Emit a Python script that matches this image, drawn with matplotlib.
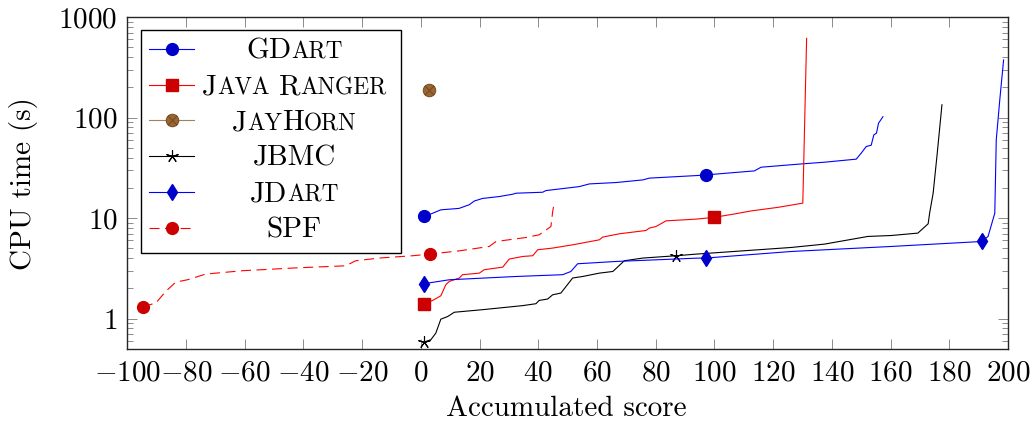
import matplotlib
matplotlib.use("Agg")
import matplotlib.pyplot as plt
from matplotlib import ticker
from matplotlib.path import Path
from matplotlib.offsetbox import TextArea, HPacker, AnnotationBbox

plt.rcParams["font.family"] = ["cmr10", "DejaVu Serif"]
plt.rcParams["mathtext.fontset"] = "cm"
plt.rcParams["axes.formatter.use_mathtext"] = True
plt.rcParams["font.size"] = 21

# ---- data (x = accumulated score, y = CPU time in s)
gdart_x = [1, 3.4, 6.8, 13, 16.5, 18.2, 21, 26.7, 31.3, 32.4, 41.5, 42.6, 54, 57.4, 66.5,
           75.6, 77.8, 93.8, 97, 113.6, 115.9, 129.6, 137.5, 148.3, 150, 151.7, 153.4,
           154.3, 155.2, 155.9, 157.4]
gdart_y = [10.5, 11.0, 12.1, 12.5, 13.6, 14.8, 15.7, 16.4, 17.3, 17.7, 18.1, 18.8, 20.6, 21.9,
           22.6, 24.0, 25.0, 26.5, 26.9, 29.5, 32.1, 34.6, 36.0, 38.6, 44.3, 51.5, 53.1, 67.3,
           70, 87.9, 102]

ranger_x = [1, 4, 6.8, 8.5, 9.7, 13.1, 14.2, 19.9, 21.6, 27.9, 30.1, 34.7, 38.1, 39.8, 44.9,
            51.7, 60.8, 61.9, 67.6, 76.7, 77.8, 80.1, 83.5, 93.8, 100, 106.8, 112.5, 121.6,
            130.1, 131.4]
ranger_y = [1.41, 1.52, 1.69, 2.18, 2.35, 2.54, 2.74, 2.84, 3.07, 3.26, 3.92, 4.16, 4.23, 4.85,
            5.04, 5.43, 6.09, 6.48, 6.99, 7.54, 7.96, 8.26, 9.40, 9.78, 10.2, 11.0, 11.8, 12.8,
            14.1, 614]

jayhorn_x = [2.7]
jayhorn_y = [188]

jbmc_x = [1, 3.4, 5.1, 6.8, 9.1, 11.4, 21, 34.7, 39.2, 40.3, 43.2, 44.9, 47.7, 51.7, 55.1,
          60.8, 65.4, 69.3, 75.6, 87, 93.8, 126.1, 137.5, 152.3, 160.2, 169.3, 172.8, 173.3,
          174.5, 175.9, 177.5]
jbmc_y = [0.586, 0.618, 0.72, 0.99, 1.05, 1.16, 1.23, 1.35, 1.41, 1.52, 1.57, 1.73, 1.80, 2.54,
          2.63, 2.84, 2.95, 3.77, 4.01, 4.23, 4.39, 5.11, 5.52, 6.58, 6.72, 7.10, 8.79, 11.2,
          17.7, 44.3, 134]

jdart_x = [1, 9.7, 32.4, 48.3, 51.1, 53.4, 66.5, 93.8, 97, 126.1, 160.2, 191, 193.2, 195.5,
           196, 197.2, 198.5]
jdart_y = [2.23, 2.44, 2.63, 2.74, 2.95, 3.52, 3.71, 4.0, 4.01, 4.66, 5.23, 5.86, 6.57, 11.2,
           60, 150, 374]

spf_x = [-94.7, -90.3, -86.9, -83.5, -79.5, -73.3, -60.8, -43.7, -25.6, -22.2, -14.2, -2.8, 3,
         13.1, 23.3, 25.6, 35.8, 40.3, 44.3, 44.9, 45.2]
spf_y = [1.32, 1.43, 1.87, 2.31, 2.44, 2.78, 3.00, 3.19, 3.36, 3.77, 4.01, 4.23, 4.39, 4.73,
         5.23, 5.86, 6.42, 6.83, 8.26, 11.6, 13.1]

# legend names, split into (text, small caps?) pieces, one inner list per word
legend_names = [
    [[("GD", False), ("ART", True)]],
    [[("J", False), ("AVA", True)], [("R", False), ("ANGER", True)]],
    [[("J", False), ("AY", True), ("H", False), ("ORN", True)]],
    [[("JBMC", False)]],
    [[("JD", False), ("ART", True)]],
    [[("SPF", False)]],
]

x_ticks = list(range(-100, 201, 20))
y_ticks = [1, 10, 100, 1000]

FS = 21

fig = plt.figure(figsize=(10.32, 4.28), dpi=100)
ax = fig.add_axes([127.3 / 1032, 79 / 428, 880.7 / 1032, 332 / 428])
ax.set_yscale("log")

lw = 0.8
h_gdart, = ax.plot(gdart_x, gdart_y, color="#0000ff", lw=lw, marker="o", ms=8.5,
                   mfc="#0000cc", mec="#0000cc", markevery=[0, gdart_x.index(97)])
h_ranger, = ax.plot(ranger_x, ranger_y, color="#ff0000", lw=lw, marker="s", ms=8,
                    mfc="#cc0000", mec="#cc0000", markevery=[0, ranger_x.index(100)])

# otimes mark: circle with a cross inside
s = 0.7071
otimes = Path.make_compound_path(
    Path.unit_circle(),
    Path([(-s, -s), (s, s), (-s, s), (s, -s)],
         [Path.MOVETO, Path.LINETO, Path.MOVETO, Path.LINETO]))
h_jayhorn, = ax.plot(jayhorn_x, jayhorn_y, color="#a8815c", lw=lw, marker=otimes, ms=9,
                     mfc="#996633", mec="#74491f", mew=0.7)
h_jbmc, = ax.plot(jbmc_x, jbmc_y, color="black", lw=lw, marker=(5, 2, 0), ms=9, mew=0.8,
                  mec="black", markevery=[0, jbmc_x.index(87)])
h_jdart, = ax.plot(jdart_x, jdart_y, color="#0000ff", lw=lw, marker="d", ms=8,
                   mfc="#0000cc", mec="#0000cc",
                   markevery=[0, jdart_x.index(97), jdart_x.index(191)])
h_spf, = ax.plot(spf_x, spf_y, color="#ff0000", lw=lw, dashes=(9, 5), marker="o", ms=8.5,
                 mfc="#cc0000", mec="#cc0000", markevery=[0, spf_x.index(3)])

ax.set_xlim(-100, 200)
ax.set_ylim(0.5, 1000)
ax.set_xticks(x_ticks)
ax.yaxis.set_major_locator(ticker.FixedLocator(y_ticks))
ax.yaxis.set_major_formatter(ticker.FuncFormatter(lambda v, p: f"$\\mathdefault{{{v:g}}}$"))
ax.yaxis.set_minor_locator(ticker.LogLocator(base=10, subs=range(2, 10)))
ax.yaxis.set_minor_formatter(ticker.NullFormatter())

ax.tick_params(which="both", direction="in", top=True, right=True, color="#8c8c8c",
               width=0.7, labelsize=FS)
ax.tick_params(which="major", length=7.5)
ax.tick_params(which="minor", length=4.5)
ax.tick_params(axis="x", pad=8)
ax.tick_params(axis="y", pad=7)
for sp in ax.spines.values():
    sp.set_linewidth(1.0)
    sp.set_color("#262626")

ax.set_xlabel("Accumulated score", fontsize=FS)
ax.xaxis.set_label_coords(0.499, -0.14)
ax.set_ylabel("CPU time (s)", fontsize=FS)
ax.yaxis.set_label_coords(-0.1015, 0.497)

handles = [h_gdart, h_ranger, h_jayhorn, h_jbmc, h_jdart, h_spf]
leg = ax.legend(handles, [""] * len(handles), loc="upper left",
                bbox_to_anchor=((141 - 127.3) / 880.7, (349 - 30) / 332), borderaxespad=0,
                fancybox=False, framealpha=1, edgecolor="black", fontsize=20,
                handlelength=1.62, handleheight=1.0, handletextpad=7.16, borderpad=0.29,
                labelspacing=0.28)
leg.get_frame().set_linewidth(1.0)

# names use small caps, so they are put on top of the legend rows afterwards
fig.canvas.draw()
renderer = fig.canvas.get_renderer()
frame = leg.get_frame().get_window_extent(renderer)


def name_box(words):
    packs = []
    for word in words:
        parts = [TextArea(t, textprops=dict(fontsize=FS * 0.8 if small else FS,
                                            family="cmr10"))
                 for t, small in word]
        packs.append(HPacker(children=parts, align="baseline", pad=0, sep=0))
    return HPacker(children=packs, align="baseline", pad=0, sep=7)


for h, words in zip(leg.legend_handles, legend_names):
    hb = h.get_window_extent(renderer)
    cy = (hb.y0 + hb.y1) / 2
    cx = frame.x0 + 0.59 * frame.width
    ab = AnnotationBbox(name_box(words), (cx, cy - 2.5), xycoords="figure pixels",
                        box_alignment=(0.5, 0.5), frameon=False, pad=0,
                        annotation_clip=False)
    fig.add_artist(ab)

fig.savefig("out.png", dpi=100)
